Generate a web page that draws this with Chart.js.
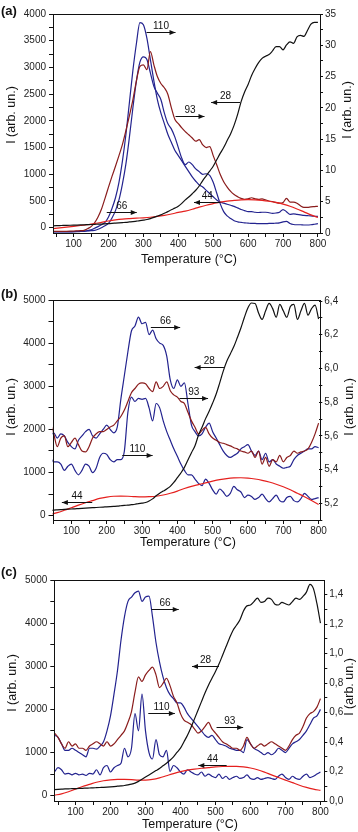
<!DOCTYPE html>
<html>
<head>
<meta charset="utf-8">
<script src="https://cdn.jsdelivr.net/npm/chart.js"></script>
<style>
body{margin:0;background:#fff;width:358px;height:832px;position:relative;overflow:hidden;font-family:'Liberation Sans',Arial,sans-serif}
canvas{position:absolute;left:0}
.lbl{position:absolute;left:1px;font-weight:bold;font-size:13px;line-height:13px;color:#111}
</style>
</head>
<body>
<canvas id="pa" width="358" height="270" style="top:0px"></canvas>
<canvas id="pb" width="358" height="285" style="top:270px"></canvas>
<canvas id="pc" width="358" height="284" style="top:548px"></canvas>
<div class="lbl" style="top:4px">(a)</div>
<div class="lbl" style="top:287px">(b)</div>
<div class="lbl" style="top:565px">(c)</div>
<script>
// temperature grids (°C)
var tFine = [40,50,60,70,80,90,
  100,110,120,130,140,150,160,170,180,190,
  200,210,220,230,240,250,260,270,280,290,
  300,310,320,330,340,350,360,370,380,390,
  400,410,420,430,440,450,460,470,480,490,
  500,510,520,530,540,550,560,570,580,590,
  600,610,620,630,640,650,660,670,680,690,
  700,710,720,730,740,750,760,770,780,790,
  800];
var tCoarse = [40,60,80,100,120,140,160,180,200,220,240,260,280,300,320,340,360,380,400,
  420,440,460,480,500,520,540,560,580,600,620,640,660,680,700,720,740,760,780,800];

// tick labels
var xMajor = [100,200,300,400,500,600,700,800];
var xMinor = [50,150,250,350,450,550,650,750];
var aLeftMajor = [0,500,1000,1500,2000,2500,3000,3500,4000];
var aLeftMinor = [250,750,1250,1750,2250,2750,3250,3750];
var aRightMajor = [0,5,10,15,20,25,30,35];
var aRightMinor = [2.5,7.5,12.5,17.5,22.5,27.5,32.5];
var bcLeftMajor = [0,1000,2000,3000,4000,5000];
var bcLeftMinor = [500,1500,2500,3500,4500];
var bRightMajor = [5.2,5.4,5.6,5.8,6.0,6.2,6.4];
var bRightMinor = [5.1,5.3,5.5,5.7,5.9,6.1,6.3];
var cRightMajor = [0,0.2,0.4,0.6,0.8,1.0,1.2,1.4];
var cRightMinor = [0.1,0.3,0.5,0.7,0.9,1.1,1.3];

// ---- panel (a) ----
var a28 = [35,37,39,41,43,45,
  47,49,51,53,56,59,62,65,68,72,
  76,80,85,90,95,100,107,114,122,130,
  140,152,170,192,215,240,270,300,335,365,
  400,455,520,575,635,700,780,880,970,1060,
  1150,1270,1390,1500,1630,1760,1920,2120,2360,2540,
  2680,2850,2980,3090,3170,3210,3240,3310,3390,3390,
  3330,3420,3480,3450,3570,3600,3580,3690,3810,3845,
  3845];
var a44 = [-20,-5,10,25,40,55,75,100,125,145,160,170,178,185,195,210,230,255,285,310,
  345,385,420,450,478,498,510,520,525,522,512,495,472,440,400,350,295,240,190];
var a110 = [0.21,0.21,0.21,0.21,0.22,0.23,
  0.24,0.25,0.27,0.30,0.38,0.51,0.76,1.02,1.32,1.70,
  2.56,3.92,5.63,8.10,11.52,15.78,20.90,26.02,30.29,33.62,
  33.28,31.14,27.73,24.32,21.33,19.20,17.49,15.78,14.50,13.22,
  12.37,11.52,10.66,9.81,8.96,8.27,7.68,7.34,6.82,6.31,
  5.80,5.29,4.95,4.77,4.60,4.43,4.26,4.01,3.75,3.58,
  3.41,3.41,3.32,3.28,3.32,3.32,3.24,3.15,3.20,3.32,
  3.75,3.41,2.98,3.07,2.98,2.90,2.81,2.77,2.73,2.68,
  2.66];
var a66 = [0.17,0.17,0.17,0.17,0.18,0.18,
  0.19,0.21,0.24,0.27,0.32,0.38,0.42,0.59,0.85,1.15,
  1.53,2.39,3.58,5.29,7.85,11.09,15.36,20.05,24.32,27.30,
  28.16,27.73,25.60,23.46,22.35,21.33,19.20,17.49,16.64,15.36,
  13.65,11.94,10.92,11.35,10.92,10.24,9.81,9.38,9.47,9.21,
  8.10,6.40,4.69,3.41,2.73,2.30,1.96,1.79,1.70,1.62,
  1.58,1.53,1.53,1.49,1.49,1.49,1.53,1.53,1.58,1.62,
  1.79,1.87,1.53,1.36,1.32,1.32,1.28,1.28,1.32,1.40,
  1.49];
var a93 = [0.25,0.25,0.25,0.25,0.27,0.29,
  0.31,0.34,0.37,0.42,0.68,1.02,1.62,2.56,3.84,5.54,
  7.34,9.04,10.66,12.37,14.16,16.38,18.77,21.33,24.32,26.62,
  26.88,26.11,29.01,26.88,25.00,23.89,23.21,22.18,20.05,18.17,
  17.49,16.81,16.21,15.70,15.18,14.67,14.93,14.08,13.65,13.82,
  12.37,10.92,9.38,8.19,7.34,6.65,6.14,5.80,5.54,5.37,
  5.46,5.63,5.46,5.37,5.46,5.29,5.12,5.03,4.86,4.77,
  4.86,5.54,4.95,4.95,4.77,4.35,4.09,4.09,4.18,4.22,
  4.26];

// ---- panel (b) ----
var b28 = [120,130,135,140,145,150,
  155,160,165,170,175,180,185,190,195,200,
  205,210,215,220,230,240,245,255,265,280,
  290,305,340,390,460,520,570,620,680,770,
  880,990,1120,1290,1460,1620,1870,2050,2250,2420,
  2610,2820,3080,3350,3580,3750,3920,4130,4350,4600,
  4820,4930,4920,4700,4550,4750,4920,4800,4600,4900,
  4750,4600,4850,4900,4550,4750,4920,4650,4800,4880,
  4560];
var b44 = [30,70,125,185,245,300,350,400,430,450,455,450,440,435,440,450,480,520,570,630,
  680,720,760,800,835,860,875,880,870,850,820,780,730,670,600,520,440,350,260];
var b66 = [5.600,5.618,5.587,5.612,5.600,5.561,
  5.536,5.523,5.574,5.600,5.625,5.638,5.600,5.587,5.612,5.638,
  5.664,5.638,5.618,5.653,5.817,5.958,6.099,6.222,6.252,6.304,
  6.265,6.273,6.201,6.227,6.176,6.150,6.137,6.073,5.932,5.881,
  5.932,5.894,5.914,5.792,5.664,5.625,5.600,5.612,5.651,5.676,
  5.625,5.587,5.548,5.510,5.484,5.472,5.484,5.497,5.523,5.536,
  5.548,5.510,5.484,5.510,5.459,5.497,5.446,5.459,5.433,5.420,
  5.408,5.413,5.420,5.459,5.484,5.497,5.510,5.523,5.523,5.536,
  5.530];
var b93 = [5.676,5.612,5.536,5.587,5.600,5.536,
  5.561,5.587,5.548,5.510,5.505,5.536,5.587,5.612,5.625,5.625,
  5.638,5.653,5.664,5.689,5.715,5.753,5.804,5.856,5.881,5.907,
  5.914,5.909,5.881,5.863,5.920,5.881,5.894,5.920,5.868,5.843,
  5.830,5.804,5.792,5.740,5.689,5.651,5.612,5.633,5.651,5.612,
  5.587,5.574,5.561,5.556,5.548,5.541,5.530,5.523,5.510,5.505,
  5.497,5.510,5.472,5.510,5.433,5.472,5.420,5.459,5.446,5.484,
  5.446,5.472,5.484,5.510,5.497,5.505,5.510,5.523,5.561,5.612,
  5.676];
var b110 = [5.472,5.446,5.446,5.433,5.395,5.420,
  5.433,5.395,5.369,5.395,5.433,5.420,5.382,5.408,5.472,5.497,
  5.490,5.459,5.446,5.459,5.459,5.510,5.740,5.830,5.804,5.822,
  5.817,5.822,5.766,5.689,5.792,5.766,5.689,5.625,5.574,5.523,
  5.479,5.433,5.395,5.369,5.369,5.344,5.318,5.305,5.344,5.318,
  5.280,5.254,5.285,5.267,5.241,5.259,5.300,5.280,5.267,5.234,
  5.249,5.241,5.223,5.234,5.254,5.228,5.208,5.228,5.249,5.216,
  5.208,5.234,5.241,5.216,5.208,5.228,5.259,5.241,5.223,5.228,
  5.234];

// ---- panel (c) ----
var c28 = [140,145,150,155,158,160,
  163,166,170,173,177,180,184,188,192,197,
  203,210,218,226,235,248,265,290,330,380,
  430,480,530,580,630,690,750,820,900,1000,
  1100,1250,1400,1580,1780,1980,2180,2380,2560,2720,
  2880,3050,3250,3450,3650,3830,3950,4080,4280,4400,
  4420,4500,4580,4480,4500,4580,4550,4440,4420,4480,
  4450,4420,4500,4580,4550,4620,4720,4900,4800,4450,
  4000];
var c44 = [10,40,90,150,210,260,310,345,365,375,375,370,360,360,375,410,460,510,555,590,
  615,635,650,665,675,680,678,665,640,600,545,480,420,360,300,240,190,150,120];
var c66 = [0.446,0.432,0.388,0.344,0.344,0.358,
  0.344,0.329,0.314,0.300,0.358,0.358,0.352,0.373,0.402,0.476,
  0.578,0.725,0.886,1.091,1.252,1.355,1.384,1.413,1.425,1.355,
  1.384,1.390,1.252,1.076,0.944,0.842,0.769,0.722,0.695,0.666,
  0.666,0.637,0.593,0.563,0.534,0.505,0.476,0.446,0.432,0.446,
  0.417,0.388,0.382,0.373,0.358,0.352,0.344,0.344,0.329,0.417,
  0.388,0.358,0.344,0.329,0.314,0.329,0.314,0.329,0.358,0.344,
  0.329,0.358,0.388,0.402,0.417,0.446,0.476,0.519,0.563,0.578,
  0.622];
var c93 = [0.461,0.432,0.388,0.358,0.402,0.373,
  0.388,0.358,0.358,0.344,0.373,0.388,0.402,0.388,0.373,0.402,
  0.373,0.388,0.417,0.446,0.476,0.534,0.607,0.739,0.842,0.812,
  0.856,0.886,0.909,0.856,0.769,0.798,0.833,0.783,0.710,0.666,
  0.593,0.549,0.534,0.519,0.490,0.461,0.476,0.505,0.534,0.490,
  0.461,0.432,0.402,0.388,0.373,0.358,0.358,0.344,0.373,0.432,
  0.388,0.358,0.373,0.388,0.373,0.388,0.402,0.388,0.373,0.358,
  0.344,0.373,0.417,0.446,0.461,0.505,0.563,0.593,0.607,0.637,
  0.695];
var c110 = [0.197,0.226,0.212,0.183,0.188,0.177,
  0.188,0.177,0.183,0.174,0.188,0.183,0.212,0.177,0.226,0.241,
  0.197,0.226,0.241,0.256,0.358,0.300,0.358,0.593,0.476,0.725,
  0.476,0.329,0.285,0.417,0.314,0.300,0.344,0.200,0.241,0.226,
  0.197,0.183,0.212,0.197,0.183,0.177,0.197,0.168,0.183,0.168,
  0.159,0.183,0.153,0.168,0.147,0.159,0.168,0.153,0.159,0.177,
  0.153,0.147,0.159,0.147,0.153,0.159,0.153,0.147,0.168,0.183,
  0.159,0.147,0.168,0.153,0.147,0.168,0.183,0.159,0.168,0.183,
  0.197];

// m/z labels with arrows: [label, T from, T to, left-axis level, direction]
var notesA = [['110',309,392,3663,1],['93',392,475,2097,1],['28',494,577,2346,-1],['66',195,281,287,1],['44',445,521,487,-1]];
var notesB = [['66',325,408,4383,1],['28',449,532,3440,-1],['93',406,487,2721,1],['110',244,330,1407,1],['44',73,159,325,-1]];
var notesC = [['66',317,395,4329,1],['28',433,510,3015,-1],['110',308,384,1909,1],['93',503,579,1600,1],['44',451,532,711,-1]];

var FONT = "'Liberation Sans', Arial, sans-serif";
var NAVY = '#23238f', MAROON = '#8a1c1c', RED = '#e5201e', BLACK = '#111111';

function pts(xs, ys) {
  return xs.map(function(x, i) { return {x: x, y: ys[i]}; });
}
function line(xs, ys, color, axis) {
  return {data: pts(xs, ys), borderColor: color, yAxisID: axis, borderWidth: 1.2,
    pointRadius: 0, fill: false, cubicInterpolationMode: 'monotone'};
}
function has(list, v) {
  return list.some(function(m) { return Math.abs(m - v) < 1e-6; });
}
function comma(v) { return v.toFixed(1).replace('.', ','); }

function makePanel(p) {
  var W = 358;
  var grid = {drawOnChartArea: false, drawTicks: true, tickLength: 4, color: '#111', lineWidth: 1};
  var tickFont = {family: FONT, size: 10};

  var deco = {
    id: 'deco',
    afterDatasetsDraw: function(chart) {
      var ctx = chart.ctx, a = chart.chartArea;
      var sx = chart.scales.x, sy = chart.scales.y;
      ctx.save();
      ctx.strokeStyle = '#111';
      ctx.lineWidth = 1;
      ctx.strokeRect(Math.round(a.left) + 0.5, Math.round(a.top) + 0.5,
        Math.round(a.right - a.left), Math.round(a.bottom - a.top));
      ctx.fillStyle = '#111';
      ctx.font = '10px ' + FONT;
      ctx.textAlign = 'center';
      ctx.textBaseline = 'alphabetic';
      p.notes.forEach(function(n) {
        var x1 = sx.getPixelForValue(n[1]), x2 = sx.getPixelForValue(n[2]);
        var y = Math.round(sy.getPixelForValue(n[3])) + 0.5;
        ctx.beginPath(); ctx.moveTo(x1, y); ctx.lineTo(x2, y); ctx.stroke();
        var tip = n[4] > 0 ? x2 : x1, d = n[4] > 0 ? -1 : 1;
        ctx.beginPath(); ctx.moveTo(tip, y); ctx.lineTo(tip + d * 6, y - 2.5);
        ctx.lineTo(tip + d * 6, y + 2.5); ctx.closePath(); ctx.fill();
        ctx.fillText(n[0], (x1 + x2) / 2, y - 4);
      });
      // axis titles
      ctx.font = '12.5px ' + FONT;
      ctx.textBaseline = 'middle';
      ctx.fillText('Temperature (°C)', p.tx[0], p.tx[1]);
      [p.tl, p.tr].forEach(function(t) {
        ctx.save();
        ctx.translate(t[0], t[1]);
        ctx.rotate(-Math.PI / 2);
        ctx.fillText('I (arb. un.)', 0, 0);
        ctx.restore();
      });
      ctx.restore();
    }
  };

  new Chart(document.getElementById(p.id), {
    type: 'line',
    data: {datasets: p.series},
    options: {
      responsive: false, animation: false, events: [],
      layout: {padding: {top: p.box.t, left: 0, right: 0, bottom: 0}},
      plugins: {legend: {display: false}, tooltip: {enabled: false}},
      scales: {
        x: {
          type: 'linear', position: 'bottom', min: p.xr[0], max: p.xr[1],
          afterFit: function(s) { s.height = p.h - p.box.b; },
          afterBuildTicks: function(s) { s.ticks = xMajor.concat(xMinor).map(function(v) { return {value: v}; }); },
          grid: grid, border: {display: false},
          ticks: {font: tickFont, color: '#222', padding: 1, autoSkip: false, maxRotation: 0,
            callback: function(v) { return has(xMajor, v) ? String(v) : ''; }}
        },
        y: {
          type: 'linear', position: 'left', min: p.left.min, max: p.left.max,
          afterFit: function(s) { s.width = p.box.l; },
          afterBuildTicks: function(s) { s.ticks = p.left.major.concat(p.left.minor).map(function(v) { return {value: v}; }); },
          grid: grid, border: {display: false},
          ticks: {font: tickFont, color: '#222', padding: 3, autoSkip: false,
            callback: function(v) { return has(p.left.major, v) ? String(v) : ''; }}
        },
        y2: {
          type: 'linear', position: 'right', min: p.right.min, max: p.right.max,
          afterFit: function(s) { s.width = W - p.box.r; },
          afterBuildTicks: function(s) { s.ticks = p.right.major.concat(p.right.minor).map(function(v) { return {value: v}; }); },
          grid: {drawOnChartArea: false, drawTicks: true, tickLength: 3, color: '#111', lineWidth: 1},
          border: {display: false},
          ticks: {font: tickFont, color: '#222', padding: 2, autoSkip: false,
            callback: function(v) { return has(p.right.major, v) ? p.right.fmt(v) : ''; }}
        }
      }
    },
    plugins: [deco]
  });
}

makePanel({
  id: 'pa', h: 270, box: {l: 53, r: 320, t: 14, b: 233}, xr: [41, 806],
  left: {min: -100, max: 4000, major: aLeftMajor, minor: aLeftMinor},
  right: {min: 0, max: 35, major: aRightMajor, minor: aRightMinor, fmt: function(v) { return String(v); }},
  series: [
    line(tFine, a28, BLACK, 'y'),
    line(tCoarse, a44, RED, 'y'),
    line(tFine, a93, MAROON, 'y2'),
    line(tFine, a66, NAVY, 'y2'),
    line(tFine, a110, NAVY, 'y2')
  ],
  notes: notesA, tx: [189, 260], tl: [11.7, 115], tr: [348, 110]
});

makePanel({
  id: 'pb', h: 285, box: {l: 52.5, r: 319.3, t: 30, b: 250}, xr: [46.5, 802],
  left: {min: -100, max: 5000, major: bcLeftMajor, minor: bcLeftMinor},
  right: {min: 5.101, max: 6.406, major: bRightMajor, minor: bRightMinor, fmt: comma},
  series: [
    line(tFine, b28, BLACK, 'y'),
    line(tCoarse, b44, RED, 'y'),
    line(tFine, b93, MAROON, 'y2'),
    line(tFine, b66, NAVY, 'y2'),
    line(tFine, b110, NAVY, 'y2')
  ],
  notes: notesB, tx: [188, 273], tl: [11.7, 137], tr: [350, 137]
});

makePanel({
  id: 'pc', h: 284, box: {l: 54.3, r: 324.3, t: 32, b: 253}, xr: [39.4, 811],
  left: {min: -125, max: 5000, major: bcLeftMajor, minor: bcLeftMinor},
  right: {min: 0, max: 1.5, major: cRightMajor, minor: cRightMinor, fmt: comma},
  series: [
    line(tFine, c28, BLACK, 'y'),
    line(tCoarse, c44, RED, 'y'),
    line(tFine, c93, MAROON, 'y2'),
    line(tFine, c66, NAVY, 'y2'),
    line(tFine, c110, NAVY, 'y2')
  ],
  notes: notesC, tx: [190, 277], tl: [12.7, 135], tr: [350, 139]
});
</script>
</body>
</html>
